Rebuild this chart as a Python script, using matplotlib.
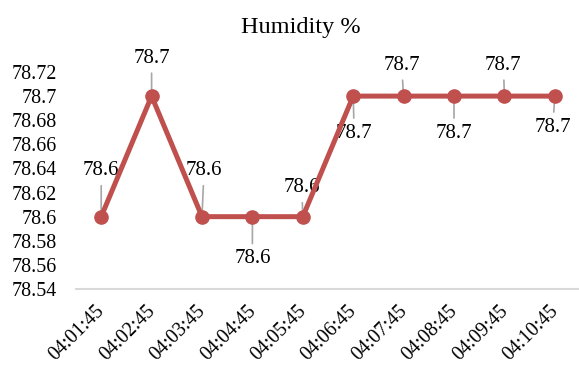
import matplotlib
matplotlib.use('Agg')
import matplotlib.pyplot as plt
import matplotlib.transforms as mtransforms
from matplotlib.ticker import FuncFormatter, MultipleLocator

plt.rcParams['font.family'] = ['Liberation Serif', 'DejaVu Serif']

times = ['04:01:45', '04:02:45', '04:03:45', '04:04:45', '04:05:45',
         '04:06:45', '04:07:45', '04:08:45', '04:09:45', '04:10:45']
humidity = [78.6, 78.7, 78.6, 78.6, 78.6, 78.7, 78.7, 78.7, 78.7, 78.7]

# where each data label sits relative to its point (pixels)
label_offsets = [(0, 46), (0, 38), (2, 46), (0, -42), (-1, 29),
                 (1, -37), (-2, 31), (0, -37), (-1, 31), (-2, -31)]

fig = plt.figure(figsize=(5.79, 3.68), dpi=100)
ax = fig.add_axes([76 / 579, 1 - 289 / 368, 504 / 579, 217 / 368])

x = list(range(len(times)))
ax.plot(x, humidity, color='#C0504D', linewidth=3.6, marker='o',
        markersize=9.5, solid_capstyle='round', zorder=3)

for xi, yi, (dx, dy) in zip(x, humidity, label_offsets):
    ax.annotate(f'{yi:g}', xy=(xi, yi), xytext=(dx, dy),
                textcoords='offset pixels', ha='center', va='center',
                fontsize=15, color='black',
                arrowprops=dict(arrowstyle='-', color='#A6A6A6', lw=1.2,
                                shrinkA=2, shrinkB=0),
                zorder=2)

ax.set_xlim(-0.5, len(times) - 0.5)
ax.set_ylim(78.54, 78.72)
ax.yaxis.set_major_locator(MultipleLocator(0.02))
ax.yaxis.set_major_formatter(FuncFormatter(lambda v, p: f'{round(v, 2):g}'))

# category labels drawn by hand so they can hang a little lower under each tick
ax.set_xticks(x)
ax.set_xticklabels([])
shift = mtransforms.ScaledTranslation(-0.06, -0.13, fig.dpi_scale_trans)
for xi, t in zip(x, times):
    ax.text(xi, 0, t, transform=ax.get_xaxis_transform() + shift,
            rotation=45, rotation_mode='anchor', ha='right', va='top',
            fontsize=14.2)

for side in ['top', 'right', 'left']:
    ax.spines[side].set_visible(False)
ax.spines['bottom'].set_color('#D9D9D9')
ax.spines['bottom'].set_linewidth(1.5)

ax.tick_params(axis='y', length=0, labelsize=14.4, pad=14)
ax.tick_params(axis='x', length=0)

fig.text(301 / 579, 1 - 27 / 368, 'Humidity %', ha='center', va='center',
         fontsize=17.5)

fig.savefig('out.png', dpi=100)
